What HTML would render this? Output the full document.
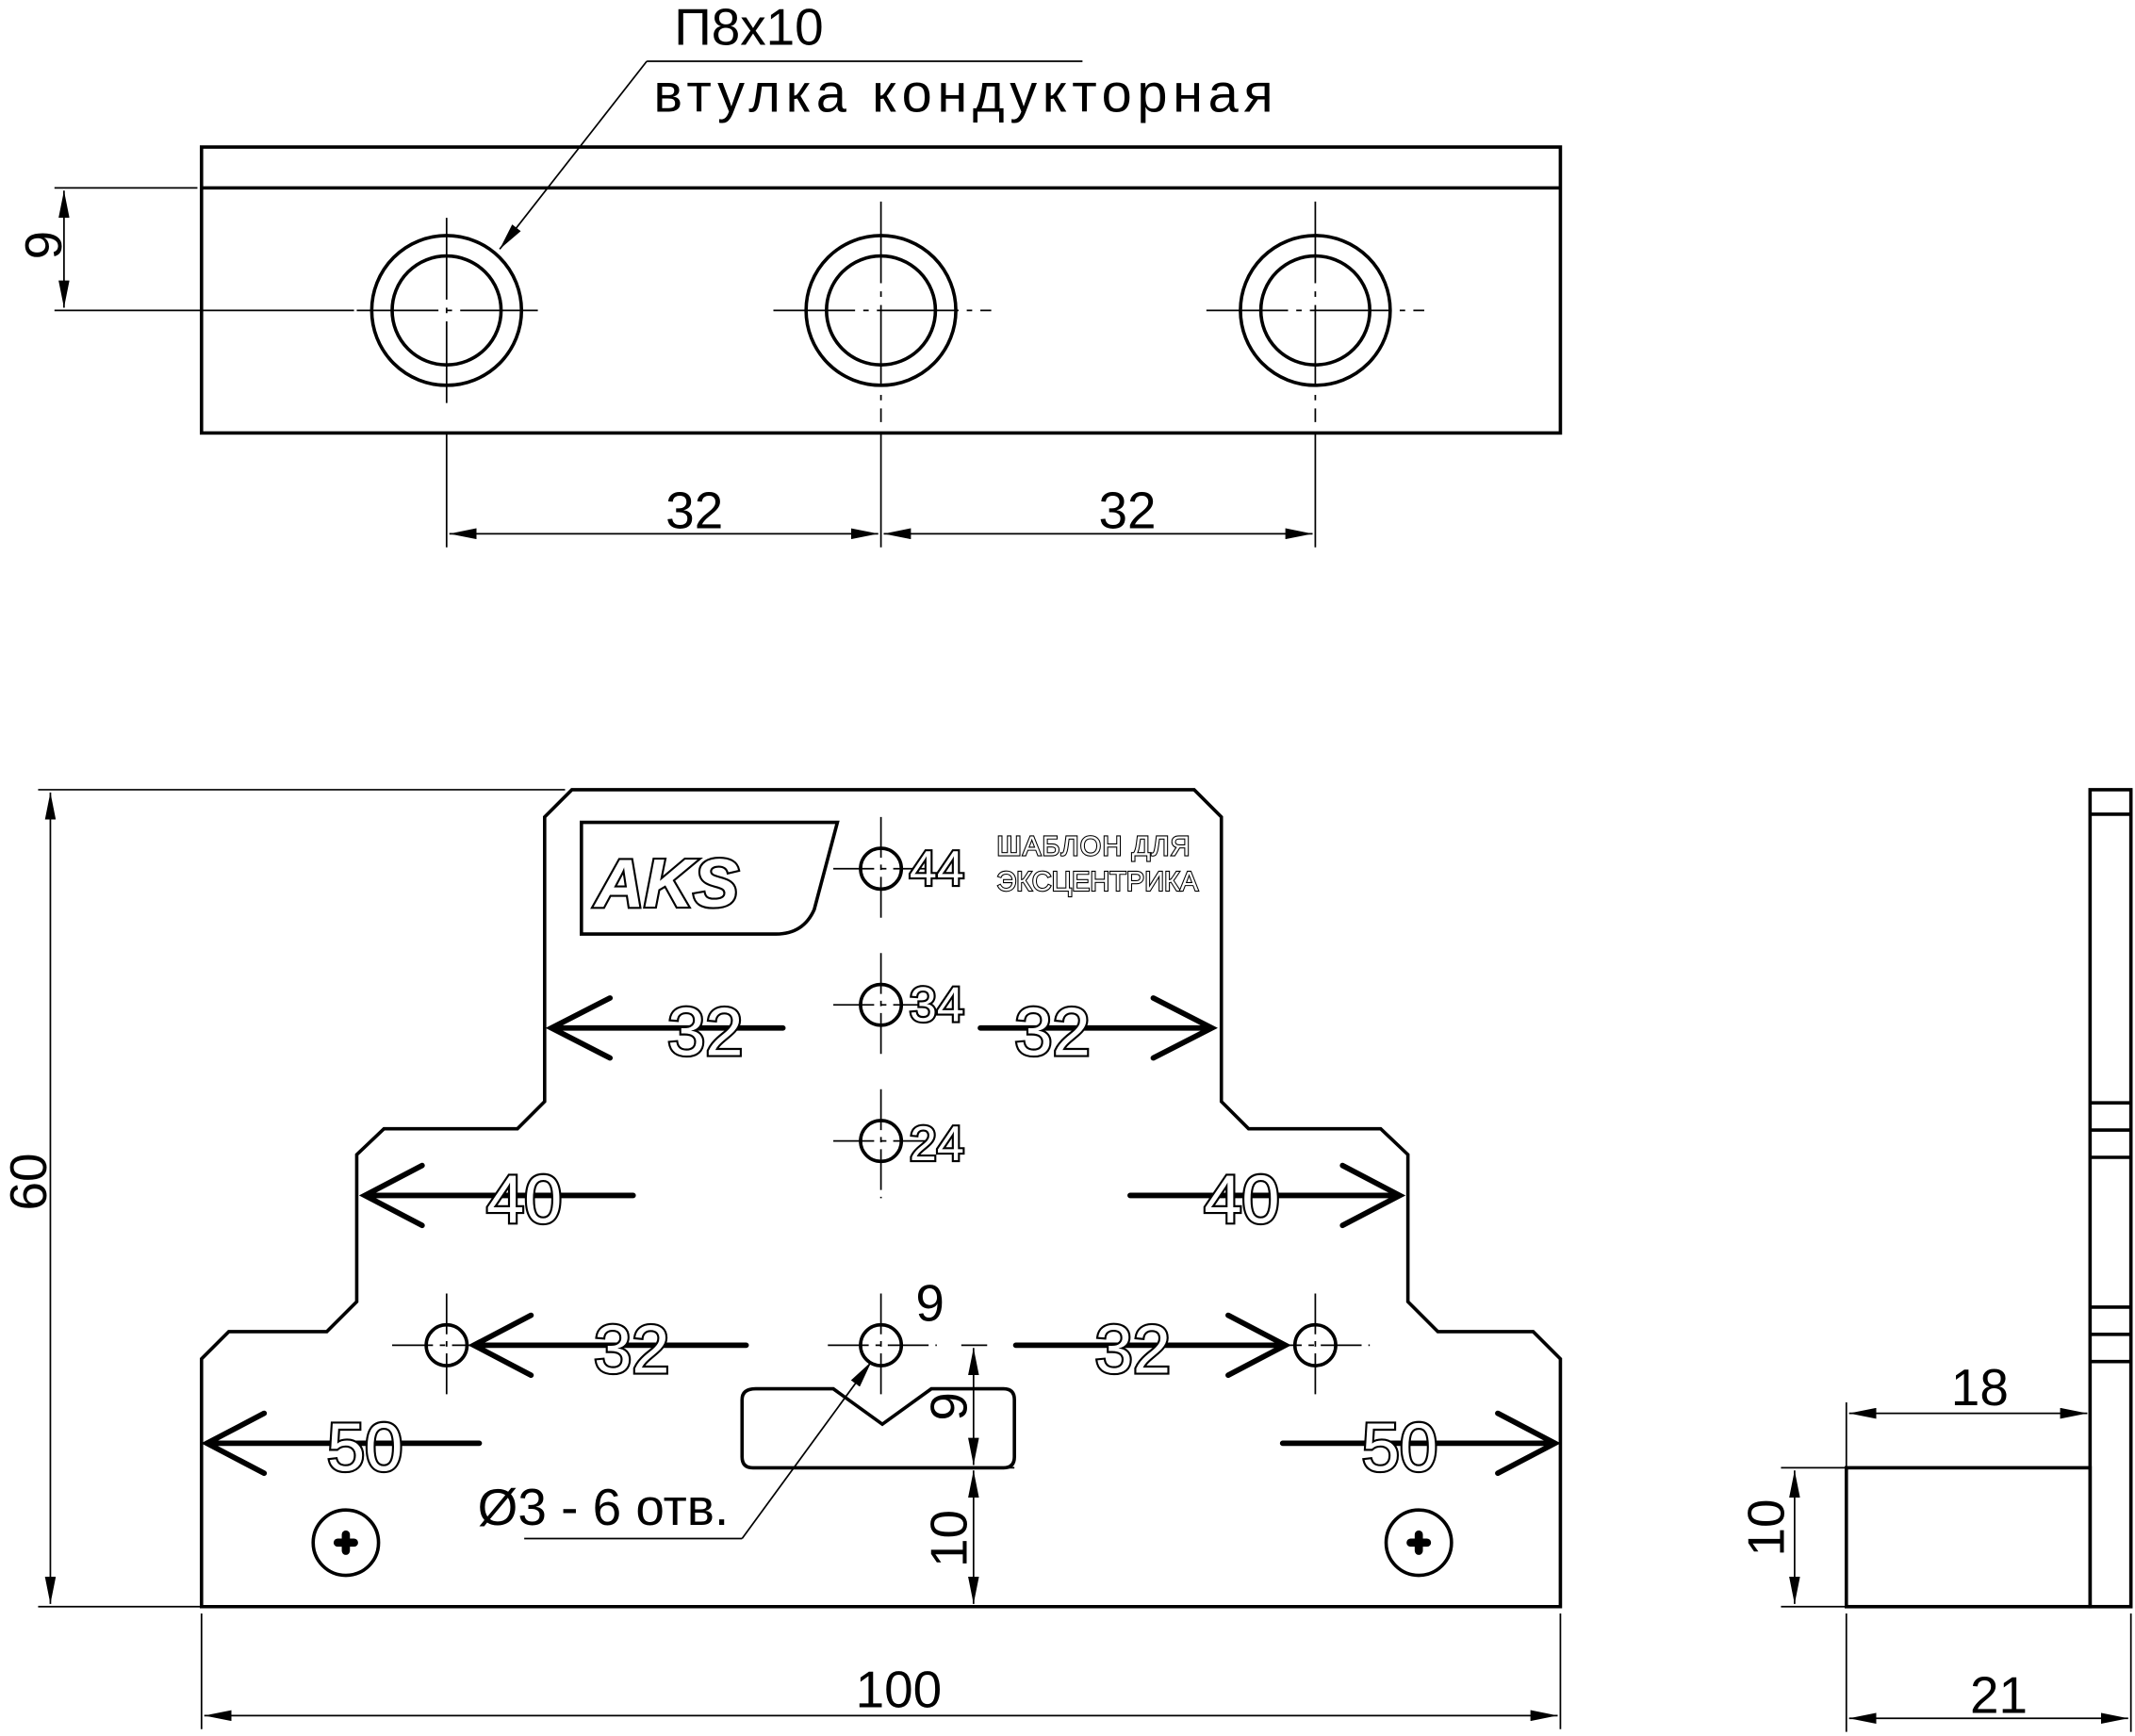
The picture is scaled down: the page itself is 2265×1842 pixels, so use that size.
<!DOCTYPE html>
<html><head><meta charset="utf-8"><style>html,body{margin:0;padding:0;background:#fff}svg{display:block}</style></head>
<body>
<svg width="2265" height="1842" viewBox="0 0 1568 1275" preserveAspectRatio="none" xmlns="http://www.w3.org/2000/svg" font-family="Liberation Sans, DejaVu Sans, sans-serif">
<defs>
<marker id="a" viewBox="0 0 20 8" refX="20" refY="4" markerWidth="20" markerHeight="8" markerUnits="userSpaceOnUse" orient="auto-start-reverse"><path d="M0,0 L20,4 L0,8 z" fill="#000"/></marker>
</defs>
<g fill="none" stroke="#000" stroke-width="2.5">
<rect x="148" y="108" width="998" height="210"/>
<line x1="148" y1="138" x2="1146" y2="138"/>
<circle cx="328" cy="228" r="55"/><circle cx="328" cy="228" r="40"/>
<circle cx="647" cy="228" r="55"/><circle cx="647" cy="228" r="40"/>
<circle cx="966" cy="228" r="55"/><circle cx="966" cy="228" r="40"/>
</g>
<g stroke="#000" stroke-width="1.2" fill="none">
<path d="M262 228H395M568 228H728M886 228H1046" stroke-dasharray="60 6 4 6"/>
<path d="M328 160V300M647 148V310M966 148V310" stroke-dasharray="60 6 4 6"/>
<path d="M40 138H145M40 228H260"/>
<line x1="47" y1="140" x2="47" y2="226" marker-start="url(#a)" marker-end="url(#a)"/>
<path d="M328 318V402M647 318V402M966 318V402"/>
<line x1="330" y1="392" x2="645" y2="392" marker-start="url(#a)" marker-end="url(#a)"/>
<line x1="649" y1="392" x2="964" y2="392" marker-start="url(#a)" marker-end="url(#a)"/>
<line x1="475" y1="45" x2="367" y2="183" marker-end="url(#a)"/>
<path d="M475 45H795"/>
<path d="M28 580H415M28 1180H148M148 1185V1270M1146 1185V1270"/>
<line x1="37" y1="582" x2="37" y2="1178" marker-start="url(#a)" marker-end="url(#a)"/>
<line x1="150" y1="1260" x2="1144" y2="1260" marker-start="url(#a)" marker-end="url(#a)"/>
<path d="M706 988H725M706 1078H745"/>
<line x1="715" y1="990" x2="715" y2="1076" marker-start="url(#a)" marker-end="url(#a)"/>
<line x1="715" y1="1080" x2="715" y2="1178" marker-start="url(#a)" marker-end="url(#a)"/>
<line x1="545" y1="1130" x2="640" y2="1000" marker-end="url(#a)"/>
<path d="M385 1130H545"/>
<path d="M1356 1030V1078M1535 1030V1078M1308 1078H1356M1308 1180H1356M1356 1185V1272M1565 1185V1272"/>
<line x1="1358" y1="1038" x2="1533" y2="1038" marker-start="url(#a)" marker-end="url(#a)"/>
<line x1="1318" y1="1080" x2="1318" y2="1178" marker-start="url(#a)" marker-end="url(#a)"/>
<line x1="1358" y1="1262" x2="1563" y2="1262" marker-start="url(#a)" marker-end="url(#a)"/>
<path d="M612 638H682M647 600V676M612 738H682M647 700V776M612 838H682M647 800V880M608 988H688M647 950V1026M288 988H368M328 950V1026M926 988H1006M966 950V1026" stroke-dasharray="30 5 4 5"/>
</g>
<g fill="none" stroke="#000" stroke-width="2.5">
<path d="M148 998L168 978H240L262 956V848L282 829H380L400 809V600L420 580H877L897 600V809L917 829H1014L1034 848V956L1056 978H1126L1146 998V1180H148Z"/>
<circle cx="647" cy="638" r="15"/><circle cx="647" cy="738" r="15"/><circle cx="647" cy="838" r="15"/>
<circle cx="647" cy="988" r="15"/><circle cx="328" cy="988" r="15"/><circle cx="966" cy="988" r="15"/>
<path d="M555 1020H612L648 1046L684 1020H737Q745 1020 745 1028V1070Q745 1078 737 1078H553Q545 1078 545 1070V1028Q545 1020 555 1020Z"/>
<circle cx="254" cy="1133" r="24"/><circle cx="1042" cy="1133" r="24"/>
<path d="M427 604H615L598 668Q590 686 570 686H427Z"/>
<rect x="1535" y="580" width="30" height="600"/>
<path d="M1535 598H1565M1535 810H1565M1535 830H1565M1535 850H1565M1535 960H1565M1535 980H1565M1535 1000H1565"/>
<rect x="1356" y="1078" width="179" height="102"/>
</g>
<g stroke="#000" stroke-width="4" fill="none" stroke-linecap="round">
<path d="M248 1133H260M254 1127V1139M1036 1133H1048M1042 1127V1139" stroke-width="6"/>
<path d="M405 755H575M448 733L405 755L448 777"/>
<path d="M720 755H890M847 733L890 755L847 777"/>
<path d="M268 878H465M310 856L268 878L310 900"/>
<path d="M830 878H1028M986 856L1028 878L986 900"/>
<path d="M348 988H548M390 966L348 988L390 1010"/>
<path d="M746 988H944M902 966L944 988L902 1010"/>
<path d="M152 1060H352M194 1038L152 1060L194 1082"/>
<path d="M942 1060H1142M1100 1038L1142 1060L1100 1082"/>
</g>
<g font-size="50" fill="#fff" stroke="#000" stroke-width="3" text-anchor="middle" paint-order="stroke">
<text x="518" y="775">32</text><text x="773" y="775">32</text>
<text x="385" y="898">40</text><text x="912" y="898">40</text>
<text x="464" y="1008">32</text><text x="832" y="1008">32</text>
<text x="268" y="1080">50</text><text x="1028" y="1080">50</text>
</g>
<g font-size="36" fill="#fff" stroke="#000" stroke-width="3" paint-order="stroke">
<text x="668" y="650">44</text><text x="668" y="750">34</text><text x="668" y="852">24</text>
</g>
<text x="437" y="666" font-size="50" font-style="italic" font-weight="bold" fill="#fff" stroke="#000" stroke-width="3" paint-order="stroke">AKS</text>
<g font-size="20" fill="#fff" stroke="#000" stroke-width="1.5" paint-order="stroke">
<text x="732" y="628" textLength="142">ШАБЛОН ДЛЯ</text><text x="732" y="654" textLength="148">ЭКСЦЕНТРИКА</text>
</g>
<g font-size="38" fill="#000" text-anchor="middle">
<text x="550" y="33">П8х10</text>
<text x="480" y="82" text-anchor="start" textLength="455" font-size="40">втулка кондукторная</text>
<text x="510" y="388">32</text><text x="828" y="388">32</text>
<text x="683" y="970">9</text>
<text x="443" y="1120">Ø3 - 6 отв.</text>
<text x="660" y="1254">100</text>
<text x="1454" y="1032">18</text>
<text x="1468" y="1258">21</text>
<text transform="translate(45,180) rotate(-90)">9</text>
<text transform="translate(34,868) rotate(-90)">60</text>
<text transform="translate(710,1033) rotate(-90)">9</text>
<text transform="translate(710,1130) rotate(-90)">10</text>
<text transform="translate(1310,1122) rotate(-90)">10</text>
</g>
</svg>
</body></html>
